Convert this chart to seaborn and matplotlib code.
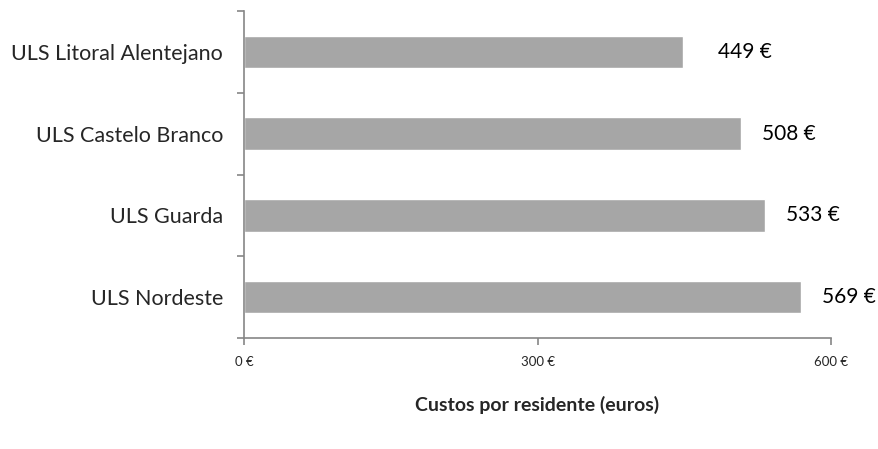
import matplotlib
matplotlib.use("Agg")
import matplotlib.pyplot as plt
import seaborn as sns
import pandas as pd
import numpy as np
from matplotlib.ticker import FixedLocator, FuncFormatter

categories = ["ULS Litoral Alentejano", "ULS Castelo Branco", "ULS Guarda", "ULS Nordeste"]
values = [449, 508, 533, 569]
x_ticks = [0, 300, 600]
x_title = "Custos por residente (euros)"

df = pd.DataFrame({"cat": categories, "val": values})

sns.set_theme(style="white")
plt.rcParams['font.family'] = ['Lato', 'DejaVu Sans']

fig = plt.figure(figsize=(8.79, 4.49), dpi=100)
ax = fig.add_axes([0.2776, 0.2472, 0.9454 - 0.2776, 0.9755 - 0.2472])

sns.barplot(data=df, y="cat", x="val", orient="h", color="#a6a6a6",
            width=0.4, saturation=1, ax=ax)

ax.set_xlim(0, 600)
ax.set_ylim(3.5, -0.5)

spine_c = "#868686"
for s in ["top", "right"]:
    ax.spines[s].set_visible(False)
for s in ["left", "bottom"]:
    ax.spines[s].set_color(spine_c)
    ax.spines[s].set_linewidth(1.2)

ax.xaxis.set_major_locator(FixedLocator(x_ticks))
ax.xaxis.set_major_formatter(FuncFormatter(lambda v, p: f"{int(v)} €"))
ax.tick_params(axis="x", which="major", direction="out", length=5, width=1.2,
               color=spine_c, labelsize=9.5, pad=8, bottom=True)

ax.set_yticks(range(len(categories)))
ax.set_yticklabels(categories)
ax.tick_params(axis="y", which="major", length=0, labelsize=15.5, pad=15)
ax.yaxis.set_minor_locator(FixedLocator(np.arange(-0.5, len(categories), 1.0)))
ax.tick_params(axis="y", which="minor", direction="out", length=5, width=1.2,
               color=spine_c, left=True)

ax.set_ylabel("")
ax.set_xlabel(x_title, fontsize=14, fontweight="bold", labelpad=20)

label_offsets = [25, 15, 15, 15.5]
for i, v in enumerate(values):
    ax.annotate(f"{v} €", xy=(v, i), xytext=(label_offsets[i], 0), textcoords="offset points",
                ha="left", va="center", fontsize=15, color="black")

fig.savefig("out.png", dpi=100)
